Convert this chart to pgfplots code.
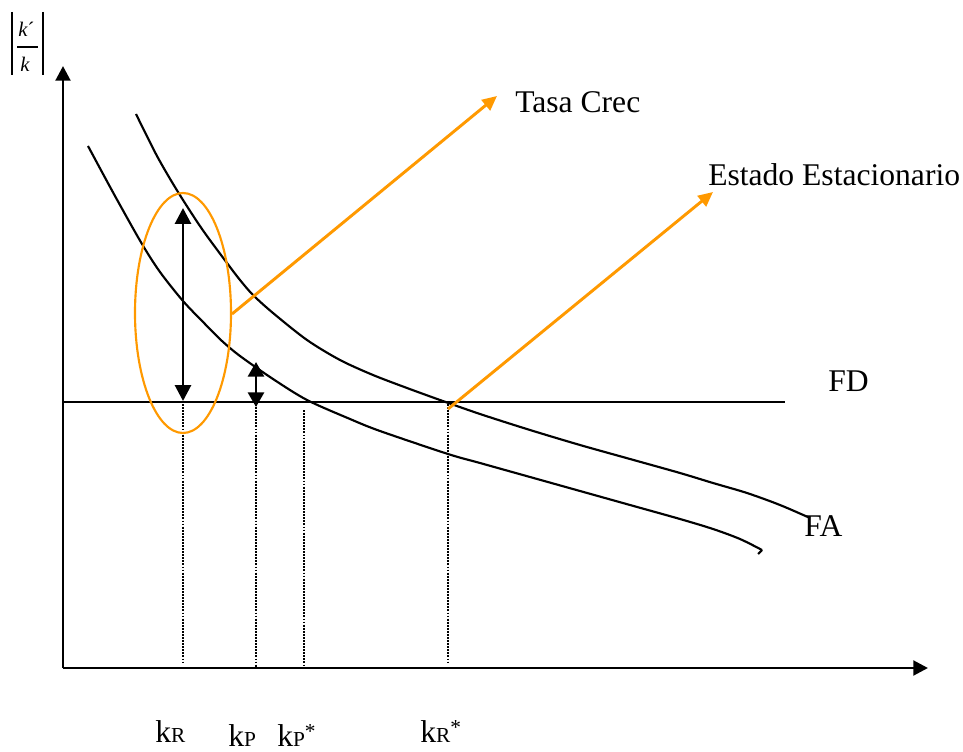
\documentclass[border=0pt]{standalone}
\usepackage{pgfplots}
\pgfplotsset{compat=1.18}
\usepackage{fontspec}
\setmainfont{Liberation Serif}
\usetikzlibrary{arrows.meta}
\definecolor{org}{RGB}{255,153,0}
\newcommand{\bigtxt}{\fontsize{23.7}{28}\selectfont}
\newcommand{\subs}{\fontsize{16}{18}\selectfont}
\begin{document}
\begin{tikzpicture}
\begin{axis}[scale only axis, width=722.25pt, height=564pt,
  xmin=0, xmax=963, ymin=0, ymax=752, y dir=reverse,
  hide axis, clip=false]
% axes
\addplot[line width=2.2pt, -{Triangle[length=11pt,width=11pt]}] coordinates {(63,668) (63,66)};
\addplot[line width=2.2pt, -{Triangle[length=11pt,width=11pt]}] coordinates {(63,668) (928,668)};
% FD line
\addplot[line width=1.6pt] coordinates {(63,402) (785,402)};
% upper curve
\addplot[line width=1.6pt, smooth] coordinates {
(136,114) (157,156) (178,192) (202,229) (227,263) (240,280) (253,295) (273,313)
(307,340) (340,360) (373,375) (407,388) (440,400) (480,414) (530,430) (580,445)
(630,459) (680,473) (713,483) (747,493) (780,505) (810,518)};
% lower curve
\addplot[line width=1.6pt, smooth] coordinates {
(88,146) (115,196) (142,244) (160,272) (183,301) (205,324) (222,341) (240,356)
(273,379) (307,400) (350,419) (380,431) (448,454) (480,463) (530,477) (580,491)
(630,505) (680,519) (713,529) (740,539) (762,550)};
\addplot[line width=1.6pt] coordinates {(762,550) (758,554)};
% dotted verticals
\addplot[line width=1.5pt, dash pattern=on 1.4pt off 0.9pt] coordinates {(183,404) (183,664)};
\addplot[line width=1.5pt, dash pattern=on 1.4pt off 0.9pt] coordinates {(256,404) (256,668)};
\addplot[line width=1.5pt, dash pattern=on 1.4pt off 0.9pt] coordinates {(304,410) (304,668)};
\addplot[line width=1.5pt, dash pattern=on 1.4pt off 0.9pt] coordinates {(448,404) (448,664)};
% double arrows
\addplot[line width=2.2pt, {Triangle[length=12pt,width=12pt]}-{Triangle[length=12pt,width=12pt]}] coordinates {(183,208) (183,401)};
\addplot[line width=2.2pt, {Triangle[length=11pt,width=12pt]}-{Triangle[length=11pt,width=12pt]}] coordinates {(256,362) (256,407)};
% orange arrows
\addplot[org, line width=2.2pt, -{Triangle[length=11pt,width=10pt]}] coordinates {(232,314) (497,96)};
\addplot[org, line width=2.2pt, -{Triangle[length=11pt,width=10pt]}] coordinates {(448,409) (713,192)};
% ellipse
\draw[org, line width=1.6pt] (axis cs:183,313) ellipse [x radius=36pt, y radius=90pt];
% fraction box
\draw[line width=1.5pt] (axis cs:12,12) -- (axis cs:12,75);
\draw[line width=1.8pt] (axis cs:43,12) -- (axis cs:43,75);
\draw[line width=0.8pt] (axis cs:17,47) -- (axis cs:38,47);
\node[anchor=base west, inner sep=0, font=\fontsize{15.5}{18}\selectfont] at (axis cs:18,37) {\textit{k}´};
\node[anchor=base west, inner sep=0, font=\fontsize{15.5}{18}\selectfont] at (axis cs:20,72) {\textit{k}};
% texts
\node[anchor=base west, inner sep=0, font=\bigtxt] at (axis cs:515,113) {Tasa Crec};
\node[anchor=base west, inner sep=0, font=\bigtxt] at (axis cs:708,186) {Estado Estacionario};
\node[anchor=base west, inner sep=0, font=\bigtxt] at (axis cs:828,391) {FD};
\node[anchor=base west, inner sep=0, font=\bigtxt] at (axis cs:804,536) {FA};
\node[anchor=base west, inner sep=0, font=\bigtxt] at (axis cs:155,742) {k{\subs R}};
\node[anchor=base west, inner sep=0, font=\bigtxt] at (axis cs:228,746) {k{\subs P}};
\node[anchor=base west, inner sep=0, font=\bigtxt] at (axis cs:277,746) {k{\subs P}{\subs\raisebox{6pt}{*}}};
\node[anchor=base west, inner sep=0, font=\bigtxt] at (axis cs:420,742) {k{\subs R}{\subs\raisebox{6pt}{*}}};
\end{axis}
\pgfresetboundingbox
\path[use as bounding box] (current axis.south west) rectangle (current axis.north east);
\end{tikzpicture}
\end{document}
